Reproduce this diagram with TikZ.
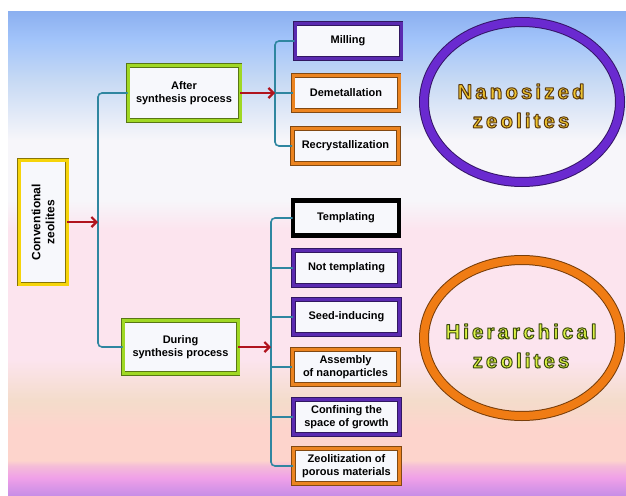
\documentclass[tikz,border=0pt]{standalone}
\usepackage{fontspec}
\setmainfont{Liberation Sans}
\newfontfamily\spacedfont[LetterSpace=15]{Liberation Sans}
\usetikzlibrary{arrows.meta,shapes.geometric,shadows}

\definecolor{bgtop}{HTML}{8CB0F0}
\definecolor{bgblue}{HTML}{A2C4FA}
\definecolor{bgsky}{HTML}{C6D9F4}
\definecolor{bgwhite}{HTML}{F7F6FA}
\definecolor{bgpink}{HTML}{FCE4EE}
\definecolor{bgpeach}{HTML}{F4DCCB}
\definecolor{bgsalmon}{HTML}{FDD4CC}
\definecolor{bgrose}{HTML}{F4BCD8}
\definecolor{bgmag}{HTML}{F0A0E8}
\definecolor{bgvio}{HTML}{C88EE6}
\definecolor{boxpurple}{HTML}{5A2AB0}
\definecolor{boxorange}{HTML}{EC8420}
\definecolor{boxgreen}{HTML}{A0D824}
\definecolor{boxyellow}{HTML}{F6D40A}
\definecolor{boxfill}{HTML}{F7F8FC}
\definecolor{nanopurple}{HTML}{6A2AD0}
\definecolor{hierorange}{HTML}{F07C14}
\definecolor{nanogold}{HTML}{EEC430}
\definecolor{hiergreen}{HTML}{DCF244}
\definecolor{arrowred}{HTML}{B0141E}
\definecolor{linkteal}{HTML}{2F86A0}

\pgfdeclareverticalshading{panelshade}{100bp}{color(0bp)=(bgvio); color(25bp)=(bgvio);
  color(26.8bp)=(bgmag); color(28bp)=(bgrose); color(28.6bp)=(bgsalmon); color(31.9bp)=(bgsalmon);
  color(34.8bp)=(bgpeach); color(39bp)=(bgpink); color(52.4bp)=(bgpink); color(55.5bp)=(bgwhite);
  color(61.7bp)=(bgwhite); color(68bp)=(bgsky); color(72.1bp)=(bgblue); color(75bp)=(bgtop);
  color(100bp)=(bgtop)}

% outlined text: stroke colour (r g b), then the text
\newcommand\outlined[2]{\special{pdf:literal direct #1 RG 1 w 1 j 2 Tr}#2\special{pdf:literal direct 0 Tr}}

\tikzset{
  box/.style={draw=#1!55!black, double=#1, double distance=3pt, line width=0.7pt,
    fill=boxfill, align=center, inner sep=2pt,
    font=\bfseries\fontsize{11}{13.5}\selectfont,
    drop shadow={opacity=0.25, shadow xshift=1.5pt, shadow yshift=-1.5pt}},
  leaf/.style={box=#1, minimum width=106pt, minimum height=35pt},
  ring/.style={ellipse, draw=#1!50!black, double=#1, double distance=8pt, line width=1pt,
    minimum width=196pt},
  bigtext/.style={align=center, font=\spacedfont\bfseries\fontsize{20.5}{29}\selectfont},
  link/.style={draw=linkteal, line width=1.6pt, rounded corners=4pt},
  arrowline/.style={draw=arrowred, line width=2.2pt, -{Straight Barb[length=5pt,width=10pt]}}
}

\begin{document}
\begin{tikzpicture}[x=1pt,y=-1pt]
  \useasboundingbox (0,0) rectangle (626,495);
  \shade[shading=panelshade] (8,12) rectangle (626,495);

  % left part
  \node[box=boxyellow, rotate=90, minimum width=124pt, minimum height=48pt,
    font=\bfseries\fontsize{12}{14}\selectfont] (conv) at (43,222) {Conventional\\zeolites};
  \node[box=boxgreen, minimum width=112pt, minimum height=55pt] (after) at (184,93) {After\\synthesis process};
  \node[box=boxgreen, minimum width=115pt, minimum height=53pt] (during) at (180.5,347) {During\\synthesis process};
  \coordinate (trunk) at (98,222);
  \draw[link] (after.west) -| (trunk) |- (during.west);
  \draw[arrowline] (conv.south) -- (trunk);

  % after synthesis
  \node[leaf=boxpurple] (milling) at (348,41) {Milling};
  \node[leaf=boxorange] (demet) at (346,93) {Demetallation};
  \node[leaf=boxorange] (recryst) at (345.5,146) {Recrystallization};
  \coordinate (topbus) at (275,93);
  \draw[link] (milling.west) -| (topbus) |- (recryst.west);
  \draw[link] (demet.west) -- (demet.west -| topbus);
  \draw[arrowline] (after.east) -- (after.east -| topbus);

  % during synthesis
  \node[leaf=black] (templ) at (346,218) {Templating};
  \node[leaf=boxpurple] (nottempl) at (346.5,268) {Not templating};
  \node[leaf=boxpurple] (seed) at (346.5,317) {Seed-inducing};
  \node[leaf=boxorange] (assembly) at (345.5,367) {Assembly\\of nanoparticles};
  \node[leaf=boxpurple] (confine) at (346.5,417) {Confining the\\space of growth};
  \node[leaf=boxorange] (zeol) at (346.5,466) {Zeolitization of\\porous materials};
  \coordinate (lowbus) at (271,347);
  \draw[link] (templ.west) -| (lowbus) |- (zeol.west);
  \draw[link] (nottempl.west) -- (nottempl.west -| lowbus);
  \draw[link] (seed.west) -- (seed.west -| lowbus);
  \draw[link] (assembly.west) -- (assembly.west -| lowbus);
  \draw[link] (confine.west) -- (confine.west -| lowbus);
  \draw[arrowline] (during.east) -- (during.east -| lowbus);

  % the two kinds of zeolites
  \node[ring=nanopurple, minimum height=160pt] (nano) at (522,102) {};
  \node[ring=hierorange, minimum height=156pt] (hier) at (522,338) {};
  \node[bigtext, text=nanogold] (nanotext) at (521,106)
    {\outlined{0.35 0.22 0.06}{Nanosized}\\\outlined{0.35 0.22 0.06}{zeolites}};
  \node[bigtext, text=hiergreen] (hiertext) at (521,346)
    {\outlined{0.23 0.29 0.06}{Hierarchical}\\\outlined{0.23 0.29 0.06}{zeolites}};
\end{tikzpicture}
\end{document}
